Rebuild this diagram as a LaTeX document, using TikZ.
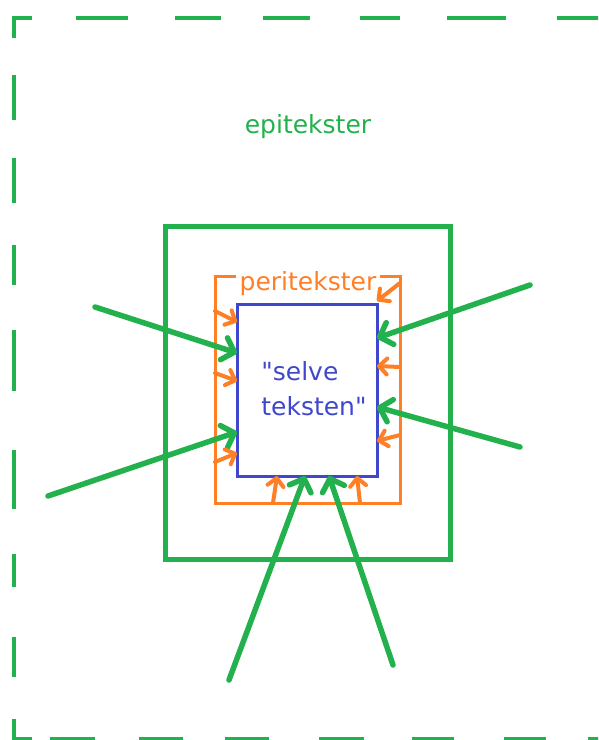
\documentclass[tikz,border=0pt]{standalone}
\usepackage{fontspec}
\setmainfont{DejaVu Sans}[Ligatures=TeXOff]
\usepackage{tikz}
\usetikzlibrary{arrows.meta,positioning}

\definecolor{paintgreen}{HTML}{22B14C}
\definecolor{paintorange}{HTML}{FF7F27}
\definecolor{paintblue}{HTML}{3F48CC}

\begin{document}
\begin{tikzpicture}[
    x=1pt, y=-1pt,
    frame/.style={draw=paintgreen, line width=4pt},
    box/.style={draw=#1, inner sep=0pt, outer sep=0pt},
    word/.style={text=#1, font=\fontsize{25}{35}\selectfont},
    epiarrow/.style={draw=paintgreen, line width=5.5pt, line cap=round,
                     -{Straight Barb[length=11pt, width=23pt, round]}},
    periarrow/.style={draw=paintorange, line width=4pt, line cap=round,
                      -{Straight Barb[length=8pt, width=16pt, round]}},
]
\useasboundingbox (0,0) rectangle (598,740);
\clip (0,0) rectangle (598,740);

% Dashed frame (drawn dash by dash)
\draw[frame] (14,38) -- (14,18) -- (32,18);
\draw[frame] (14,719) -- (14,739) -- (32,739);
\foreach \a/\b in {76/128, 175/221, 263/310, 360/400, 447/506, 557/600}
    \draw[frame] (\a,18) -- (\b,18);
\foreach \a/\b in {75/120, 158/203, 245/285, 330/391, 450/509, 554/587, 637/677}
    \draw[frame] (14,\a) -- (14,\b);
\foreach \a/\b in {50/95, 139/183, 225/269, 319/364, 412/454, 504/546, 588/600}
    \draw[frame] (\a,739) -- (\b,739);

\node[word=paintgreen] (epilabel) at (308,127) {epitekster};

% Boxes
\node[box=paintgreen, line width=5pt, minimum width=285pt, minimum height=333pt]
    (epi) at (307.5,392.5) {};
\node[box=paintorange, line width=3pt, minimum width=185pt, minimum height=227pt]
    (peri) at (307.5,389.5) {};
\node[box=paintblue, line width=3pt, minimum width=140pt, minimum height=172pt]
    (selve) at (307,390) {};
\node[word=paintblue, align=left] (selvelabel) at (314,389) {"selve\\teksten"};
\node[word=paintorange, fill=white, inner xsep=4pt, inner ysep=1pt]
    (perilabel) at (308,284) {peritekster};

% Green arrows: epitexts
\coordinate (w1) at (95,307);
\coordinate (w2) at (48,496);
\coordinate (e1) at (530,285);
\coordinate (e2) at (520,447);
\coordinate (s1) at (229,680);
\coordinate (s2) at (393,665);
\draw[epiarrow] (w1) -- (0,353 -| selve.west);
\draw[epiarrow] (w2) -- (0,432 -| selve.west);
\draw[epiarrow] (e1) -- (0,338 -| selve.east);
\draw[epiarrow] (e2) -- (0,407 -| selve.east);
\draw[epiarrow] (s1) -- (305,0 |- selve.south);
\draw[epiarrow] (s2) -- (329,0 |- selve.south);

% Orange arrows: peritexts
\foreach \ya/\yb in {311/322, 373/381, 462/453}
    \draw[periarrow] (0,\ya -| peri.west) -- (0,\yb -| selve.west);
\foreach \ya/\yb in {283/301, 367/366, 435/441}
    \draw[periarrow] (0,\ya -| peri.east) -- (0,\yb -| selve.east);
\foreach \xa/\xb in {273/277, 360/357}
    \draw[periarrow] (\xa,0 |- peri.south) -- (\xb,0 |- selve.south);

\end{tikzpicture}
\end{document}
